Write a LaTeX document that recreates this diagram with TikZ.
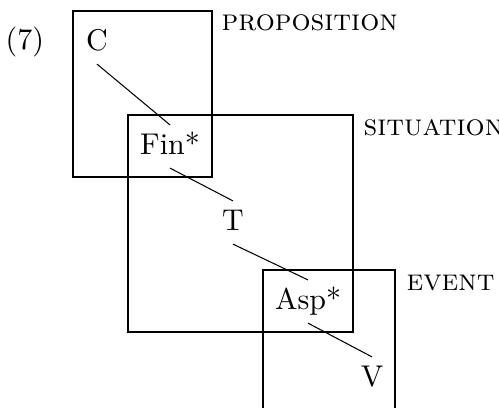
\documentclass[tikz,border=0pt]{standalone}
\begin{document}
\begin{tikzpicture}[x=0.3333pt,y=-0.3333pt,
  lab/.style={anchor=base, inner sep=1pt, text height=8.5pt, text depth=3.5pt},
  cat/.style={anchor=base west, inner sep=0pt},
  box/.style={draw, line width=0.35pt},
  link/.style={draw, line width=0.35pt}]
\useasboundingbox (0,0) rectangle (499,408);
% domain boxes
\draw[box] (73,11) rectangle (212,177);
\draw[box] (128,115) rectangle (353,332);
\draw[box] (263,408) -- (263,270) -- (395,270) -- (395,408);
% domain labels
\node[cat] (ex) at (5,49) {(7)};
\node[cat] (prop) at (221,30) {\textsc{proposition}};
\node[cat] (sit) at (363,135) {\textsc{situation}};
\node[cat] (ev) at (406,290) {\textsc{event}};
% tree nodes
\node[lab] (c) at (97,50) {C};
\node[lab] (fin) at (170,154) {Fin*};
\node[lab] (t) at (233,230) {T};
\node[lab] (asp) at (308,309) {Asp*};
\node[lab] (v) at (372,386) {V};
% links
\draw[link] (c.south) -- (fin.north);
\draw[link] (fin.south) -- (t.north);
\draw[link] (t.south) -- (asp.north);
\draw[link] (asp.south) -- (v.north);
\end{tikzpicture}
\end{document}
